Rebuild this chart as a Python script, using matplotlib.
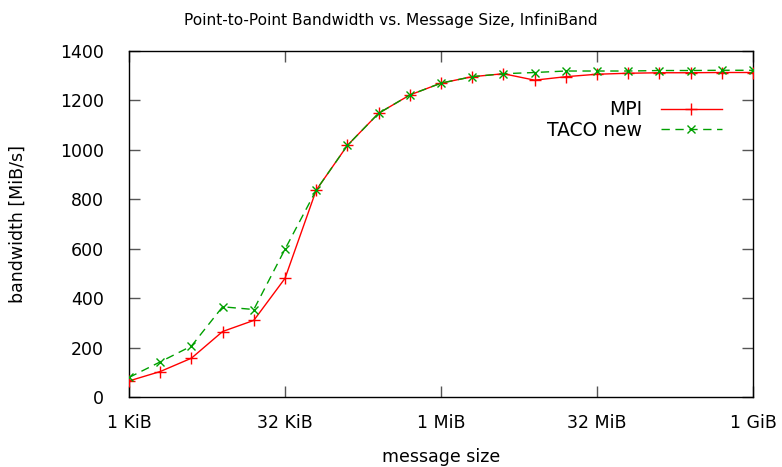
import numpy as np
import matplotlib
matplotlib.use("Agg")
import matplotlib.pyplot as plt
from matplotlib.ticker import FixedLocator

# message sizes as powers of two: 2^10 (1 KiB) .. 2^30 (1 GiB)
exponents = list(range(10, 31))
tick_exponents = [10, 15, 20, 25, 30]
tick_labels = ["1 KiB", "32 KiB", "1 MiB", "32 MiB", "1 GiB"]

mpi_bw = [65, 103, 157, 265, 310, 480, 837, 1018, 1148, 1222, 1270,
          1296, 1308, 1282, 1296, 1306, 1310, 1312, 1312, 1313, 1313]
taco_bw = [79, 142, 206, 365, 354, 598, 837, 1018, 1148, 1222, 1270,
           1296, 1308, 1313, 1319, 1319, 1319, 1321, 1321, 1322, 1322]

plt.rcParams['font.family'] = ['DejaVu Sans']

sizes = [2.0 ** e for e in exponents]

fig = plt.figure(figsize=(7.82, 4.67), dpi=100)
ax = fig.add_axes([129 / 782, 1 - 397 / 467, (753 - 129) / 782, (397 - 51) / 467])

ax.plot(sizes, mpi_bw, color='#ff0000', lw=1.0, marker='+', ms=9, mew=1.0,
        label='MPI', zorder=3)
ax.plot(sizes, taco_bw, color='#00a000', lw=1.0, ls=(0, (6, 4)), marker='x',
        ms=6, mew=1.0, label='TACO new', zorder=3)

ax.set_xscale('log', base=2)
ax.set_xlim(2.0 ** 10, 2.0 ** 30)
ax.set_ylim(0, 1400)
ax.xaxis.set_major_locator(FixedLocator([2.0 ** e for e in tick_exponents]))
ax.xaxis.set_minor_locator(FixedLocator([]))
ax.set_xticklabels(tick_labels)
ax.set_yticks(np.arange(0, 1401, 200))

ax.tick_params(direction='in', length=8, width=1.0, color='#555555',
               top=True, right=True, labelsize=12.5, labelcolor='black')
ax.tick_params(axis='y', pad=18)
ax.tick_params(axis='x', pad=12)
for s in ax.spines.values():
    s.set_linewidth(1.0)

# title centred on the whole canvas, gnuplot style
fig.text(0.5, 1 - 20 / 467, "Point-to-Point Bandwidth vs. Message Size, InfiniBand",
         fontsize=11.1, ha='center', va='center')
ax.set_xlabel("message size", fontsize=12.5)
ax.set_ylabel("bandwidth [MiB/s]", fontsize=12.5)
ax.xaxis.set_label_coords(0.5, (397 - 448) / 346)
ax.yaxis.set_label_coords((27 - 129) / 624, 0.5)

ax.legend(loc='upper right', bbox_to_anchor=(0.966, 0.885), frameon=False,
          markerfirst=False, handlelength=3.3, fontsize=13.5,
          labelspacing=0.1, handletextpad=1.0, borderpad=0)

fig.savefig("out.png", dpi=100)
